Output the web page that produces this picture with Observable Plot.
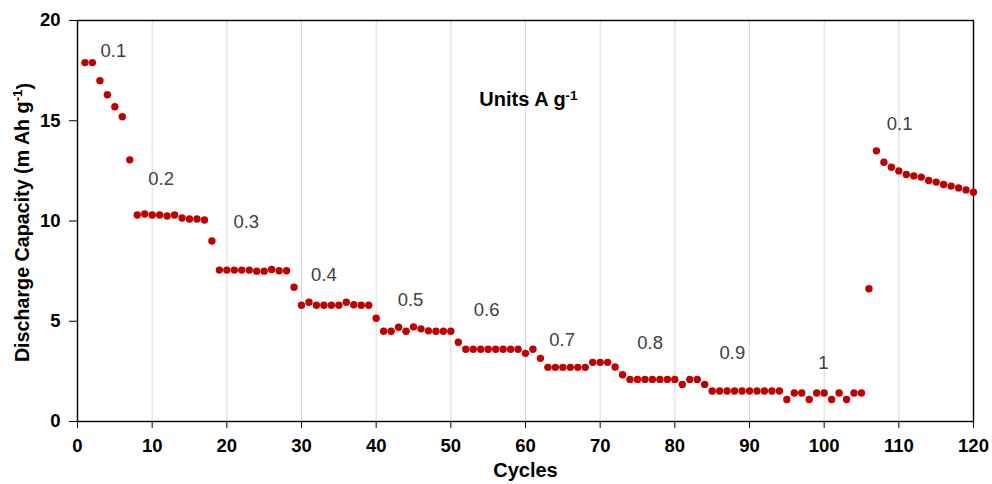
<!DOCTYPE html>
<html>
<head>
<meta charset="utf-8">
<script src="https://cdn.jsdelivr.net/npm/d3@7"></script>
<script src="https://cdn.jsdelivr.net/npm/@observablehq/plot@0.6"></script>
<style>
  html, body { margin: 0; padding: 0; background: #fff; }
  #chart svg { display: block; font-family: "Liberation Sans", Arial, sans-serif; }
</style>
</head>
<body>
<div id="chart"></div>
<script>
// Cycle numbers and measured discharge capacity (mAh g-1)
const cycles = d3.range(1, 121);
const capacity = [
  17.9, 17.9, 17.0, 16.3, 15.7, 15.2, 13.05, 10.3, 10.35, 10.3,
  10.3, 10.25, 10.3, 10.15, 10.1, 10.1, 10.05, 9.0, 7.55, 7.55,
  7.55, 7.55, 7.55, 7.5, 7.5, 7.58, 7.52, 7.52, 6.7, 5.8,
  5.95, 5.8, 5.8, 5.8, 5.8, 5.95, 5.82, 5.8, 5.8, 5.15,
  4.5, 4.5, 4.7, 4.5, 4.72, 4.62, 4.52, 4.5, 4.5, 4.5,
  3.95, 3.6, 3.6, 3.6, 3.6, 3.6, 3.6, 3.6, 3.6, 3.4,
  3.6, 3.15, 2.7, 2.7, 2.7, 2.7, 2.7, 2.7, 2.95, 2.95,
  2.95, 2.72, 2.33, 2.1, 2.1, 2.1, 2.1, 2.1, 2.1, 2.1,
  1.85, 2.1, 2.1, 1.85, 1.52, 1.52, 1.52, 1.52, 1.52, 1.52,
  1.52, 1.52, 1.52, 1.52, 1.1, 1.42, 1.42, 1.1, 1.42, 1.42,
  1.1, 1.42, 1.1, 1.42, 1.42, 6.62, 13.5, 12.93, 12.68, 12.5,
  12.32, 12.25, 12.19, 12.02, 11.94, 11.82, 11.74, 11.65, 11.55, 11.44
];

// Current density annotations (A g-1) and their anchor points in data units
const rateLabels = ["0.1", "0.2", "0.3", "0.4", "0.5", "0.6", "0.7", "0.8", "0.9", "1", "0.1"];
const rateCycle  = [4.8, 11.2, 22.6, 33.0, 44.6, 54.8, 64.9, 76.7, 87.7, 99.9, 110.1];
const rateCap    = [18.47, 12.1, 9.94, 7.28, 6.08, 5.54, 4.04, 3.92, 3.4, 2.9, 14.85];

const xTicks = [0, 10, 20, 30, 40, 50, 60, 70, 80, 90, 100, 110, 120];
const yTicks = [0, 5, 10, 15, 20];

const points = cycles.map((c, i) => ({cycle: c, capacity: capacity[i]}));
const rates = rateLabels.map((t, i) => ({label: t, cycle: rateCycle[i], capacity: rateCap[i]}));

const chart = Plot.plot({
  width: 992,
  height: 484,
  marginLeft: 77,
  marginRight: 19,
  marginTop: 20,
  marginBottom: 63,
  x: {domain: [0, 120], ticks: xTicks},
  y: {domain: [0, 20], ticks: yTicks},
  marks: [
    Plot.gridX(xTicks.slice(1, -1), {stroke: "#d9d9d9", strokeOpacity: 1, strokeWidth: 1}),
    Plot.frame({stroke: "#000", strokeWidth: 1.4}),
    Plot.axisX(xTicks, {
      tickSize: 7, tickPadding: 10, fontSize: 18.5, fontWeight: "bold", fill: "#000",
      label: "Cycles", labelAnchor: "center", labelOffset: 55, labelArrow: "none"
    }),
    Plot.axisY(yTicks, {
      tickSize: 8, tickPadding: 9, fontSize: 18.5, fontWeight: "bold", fill: "#000",
      label: "Discharge Capacity (m Ah g-1)", labelAnchor: "center", labelOffset: 63, labelArrow: "none"
    }),
    Plot.dot(points, {x: "cycle", y: "capacity", r: 3.7, fill: "#c00000", stroke: "none"}),
    Plot.text(rates, {x: "cycle", y: "capacity", text: "label", fontSize: 18.5, fill: "#404040"}),
    Plot.text(["Units A g-1"], {frameAnchor: "top", dy: 71.5, dx: 3, fontSize: 20, fontWeight: "bold", fill: "#000"})
  ]
});

// Render the "-1" exponents of the units as superscripts
d3.select(chart).selectAll("text").each(function () {
  const el = this;
  const targets = el.querySelectorAll("tspan").length ? Array.from(el.querySelectorAll("tspan")) : [el];
  for (const t of targets) {
    const s = t.textContent;
    const k = s.indexOf("g-1");
    if (k < 0) continue;
    const before = s.slice(0, k + 1), after = s.slice(k + 3);
    t.textContent = "";
    const sel = d3.select(t);
    sel.append("tspan").text(before);
    sel.append("tspan").attr("dy", "-0.45em").attr("font-size", "0.68em").text("-1");
    if (after) sel.append("tspan").attr("dy", "0.45em").text(after);
  }
});

d3.select(chart).selectAll("[aria-label='x-axis label'] text")
  .attr("font-size", 20).attr("font-weight", "bold").attr("fill", "#000");
d3.select(chart).selectAll("[aria-label='y-axis label'] text")
  .attr("font-size", 19.7).attr("font-weight", "bold").attr("fill", "#000")
  .attr("transform", function () { return "translate(0,1.5) " + (this.getAttribute("transform") || ""); });

document.getElementById("chart").appendChild(chart);
</script>
</body>
</html>
